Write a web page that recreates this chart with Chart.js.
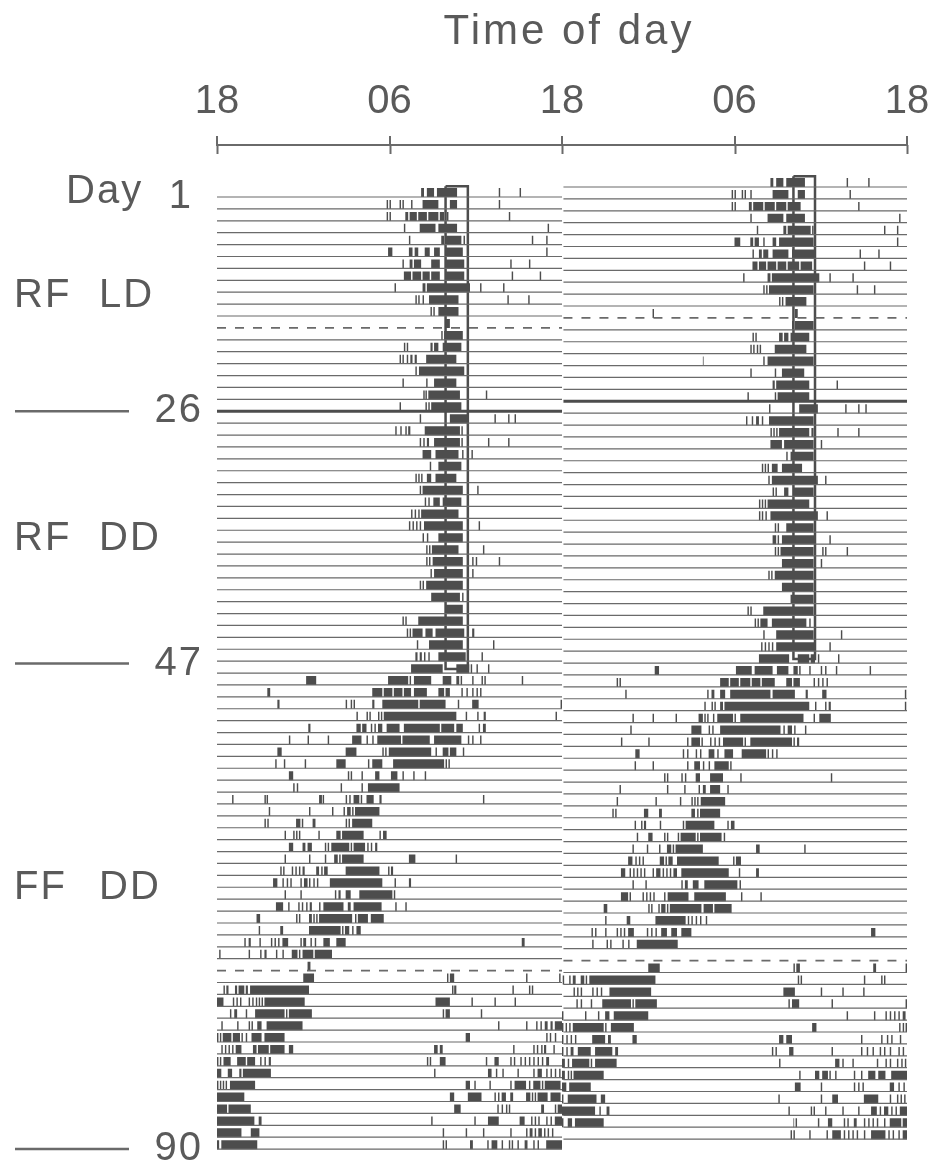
<!DOCTYPE html>
<html>
<head>
<meta charset="utf-8">
<script src="https://cdn.jsdelivr.net/npm/chart.js@4.4.1/dist/chart.umd.min.js"></script>
<style>
  html, body { margin: 0; padding: 0; background: #fff; }
</style>
</head>
<body>
<canvas id="acto" width="930" height="1166"></canvas>
<script>
// time axis: 48 h double plot starting at 18:00
const axisTitle = "Time of day";
const timeTicks = ["18", "06", "18", "06", "18"];

// day labels on the left and the rows they sit on
const dayMarks = ["1", "26", "47", "90"];
const dayMarkRows = [1, 19, 40.2, 81];
const phaseLabels = ["RF LD", "RF DD", "FF DD"];
const phaseRows = [9.3, 29.7, 59.1];

// special base lines
const dashedRows = [12, 66];
const thickRows = [19];

// restricted feeding window (hours after 18:00) and the rows it spans
const feedLeft = [15.9, 17.45];
const feedRight = [16.1, 17.6];
const feedRows = [0.1, 40.65];
const rowCount = 81;

// activity, one array per row: [start, end, start, end, ...] in hours after 18:00
const ldLeft = [
  [14.2,14.4, 14.6,15.1, 15.3,16.7, 19.6,19.7, 21.05,21.15],
  [11.8,11.9, 12.0,12.1, 12.7,12.8, 12.9,13.0, 13.5,13.6, 14.3,15.4, 16.2,16.7, 19.6,19.7],
  [11.8,11.9, 12.0,12.1, 13.1,13.3, 13.4,13.9, 14.0,14.6, 14.7,15.4, 15.5,15.8, 16.0,16.1, 20.3,20.4],
  [13.0,13.1, 14.1,15.2, 15.4,16.7, 23.0,23.1],
  [13.35,13.45, 15.6,15.8, 15.9,17.0, 17.15,17.25, 21.9,22.0, 22.9,23.0],
  [11.9,12.2, 13.35,13.6, 13.75,14.0, 14.45,14.8, 15.1,15.5, 15.9,17.1, 22.9,23.0],
  [12.9,13.0, 13.4,13.6, 13.7,14.2, 14.9,15.5, 15.9,17.2, 20.4,20.5, 21.7,21.8],
  [13.0,13.5, 13.6,14.2, 14.3,14.8, 14.9,15.5, 15.9,17.2, 20.5,20.6, 22.45,22.55],
  [12.35,12.45, 14.3,14.5, 14.6,17.6, 18.3,18.4, 19.9,20.0],
  [13.8,13.9, 14.0,14.1, 14.3,14.4, 14.75,16.8, 20.2,20.3, 21.65,21.75],
  [14.85,14.95, 15.05,15.15, 15.4,16.8],
  [15.9,16.2],
  [15.6,15.7, 15.8,17.1],
  [13.0,13.1, 13.2,13.3, 14.85,15.0, 15.1,15.4, 15.7,17.0],
  [12.7,12.8, 12.9,13.0, 13.2,13.3, 13.45,13.6, 13.75,13.9, 14.55,16.65],
  [13.8,13.9, 14.05,17.2],
  [12.9,13.0, 14.55,14.65, 15.1,16.65],
  [14.35,14.45, 14.5,14.6, 14.7,16.9, 18.7,18.8]
];
const rfLeft = [
  [12.7,12.8, 14.5,14.6, 14.7,14.8, 14.9,17.0],
  [14.1,14.2, 16.2,17.4, 19.3,19.4, 20.25,20.35, 20.7,20.8],
  [12.4,12.5, 12.75,12.85, 13.1,13.2, 13.3,13.45, 14.45,16.9, 17.0,17.1],
  [14.1,14.2, 14.35,14.45, 14.6,14.75, 15.1,16.9, 17.0,17.1, 18.85,18.95, 20.25,20.35],
  [14.3,14.9, 15.2,16.8, 17.05,17.15, 17.7,17.8],
  [14.8,14.9, 15.4,17.0],
  [13.8,13.9, 14.0,14.1, 14.2,14.3, 14.6,14.9, 15.2,16.65],
  [14.1,14.2, 14.3,17.1, 18.1,18.2],
  [14.45,14.55, 14.7,14.8, 15.05,15.5, 15.7,17.0],
  [13.5,13.6, 13.75,13.85, 14.0,14.1, 14.2,16.8],
  [13.35,13.45, 13.6,13.7, 13.85,13.95, 14.1,14.2, 14.4,17.1, 18.2,18.3],
  [14.3,14.4, 14.6,14.7, 15.4,17.1],
  [14.55,14.65, 14.75,14.85, 14.95,16.8, 18.5,18.6],
  [14.55,14.65, 14.75,14.85, 15.0,17.1, 17.75,17.85, 18.0,18.1, 19.6,19.7],
  [14.85,14.95, 15.1,17.1, 17.75,17.85],
  [14.1,14.2, 14.3,14.4, 14.55,17.1],
  [14.9,16.9, 17.05,17.15],
  [15.9,17.1],
  [12.9,13.0, 13.1,13.2, 14.0,17.1],
  [13.2,13.3, 13.4,13.5, 13.6,14.3, 14.5,15.0, 15.2,17.2, 17.75,17.9],
  [13.9,14.0, 14.75,17.1, 19.2,19.3],
  [13.8,13.95, 14.1,14.25, 14.4,14.5, 14.7,14.8, 15.4,17.3, 18.4,18.5]
];
const ffLeft = [
  [13.5,15.7, 16.65,17.55, 17.65,17.75, 18.05,18.15, 18.85,18.95],
  [6.2,6.9, 11.9,13.3, 13.4,13.5, 13.7,14.9, 15.7,16.3, 16.65,16.85, 16.95,17.05, 17.75,17.85, 18.4,18.5, 18.6,18.7, 21.2,21.3],
  [3.5,3.7, 10.8,11.5, 11.6,12.2, 12.3,12.9, 13.0,13.5, 13.7,14.6, 15.4,15.8, 15.9,16.2, 17.0,17.1, 17.35,17.45, 17.75,17.85, 18.05,18.15, 18.3,18.4],
  [4.2,4.35, 8.95,9.05, 9.3,9.4, 9.5,9.6, 10.8,10.95, 11.5,14.0, 14.1,15.9, 16.75,16.85, 17.75,18.2, 23.9,24.0],
  [9.7,9.8, 10.4,10.5, 10.6,10.7, 11.2,11.3, 11.4,11.5, 11.6,16.65, 17.3,17.4, 18.1,18.2, 18.55,18.7, 23.55,23.65],
  [6.35,6.5, 9.7,10.0, 10.1,10.4, 10.7,10.8, 10.95,11.05, 11.2,11.5, 11.8,12.7, 13.0,15.5, 15.6,16.5, 16.65,17.1, 18.2,18.3, 18.5,18.7],
  [5.0,5.1, 6.3,6.4, 7.7,7.8, 9.4,10.05, 10.4,10.5, 10.8,10.9, 11.15,12.8, 12.9,14.8, 15.1,17.0, 17.45,17.55, 17.75,17.85, 18.3,18.4],
  [4.2,4.5, 8.95,9.7, 11.5,11.6, 11.7,11.8, 11.95,14.9, 15.2,15.3, 15.7,16.1, 16.2,16.65, 17.1,17.2],
  [4.05,4.15, 4.65,4.75, 6.1,6.2, 8.3,8.95, 10.5,10.6, 10.8,11.5, 12.25,15.8, 15.9,16.0, 16.1,16.2],
  [5.0,5.3, 9.1,9.2, 9.3,9.4, 10.05,10.15, 11.0,11.3, 12.1,12.55, 12.9,13.0, 13.65,13.75, 14.45,14.55],
  [5.3,5.4, 5.55,5.65, 8.6,8.7, 10.05,10.15, 10.5,12.7],
  [1.05,1.15, 3.3,3.4, 3.45,3.55, 7.1,7.3, 7.35,7.45, 8.95,9.05, 9.2,9.3, 9.5,9.9, 10.0,10.1, 10.4,10.9, 11.3,11.45, 18.5,18.6],
  [3.6,3.7, 6.4,6.5, 8.0,8.1, 8.8,8.9, 9.05,9.3, 9.4,9.5, 9.6,11.3],
  [3.3,3.4, 3.5,3.6, 5.5,5.8, 5.9,6.0, 6.65,6.85, 8.95,9.05, 9.15,9.25, 9.4,10.8],
  [4.7,4.8, 5.3,5.4, 5.5,5.6, 5.7,5.8, 7.05,7.15, 8.3,8.6, 8.7,10.2, 11.3,11.4, 11.55,11.8],
  [5.0,5.3, 5.95,6.15, 6.3,6.6, 7.5,7.6, 7.7,7.8, 7.95,9.2, 9.3,9.4, 9.5,10.3, 10.45,10.55, 10.7,10.8, 11.0,11.15],
  [4.7,4.8, 6.4,6.5, 7.5,7.6, 8.15,8.4, 8.5,8.6, 8.7,10.2, 13.35,13.8, 16.6,16.7],
  [4.4,4.5, 4.6,4.7, 5.2,5.3, 5.45,5.55, 5.7,5.8, 5.95,6.1, 6.9,7.1, 7.25,7.35, 7.45,7.7, 8.95,11.3, 11.9,12.0, 12.1,12.25],
  [3.9,4.2, 4.55,4.65, 4.85,4.95, 5.1,5.2, 5.8,5.9, 6.05,6.3, 6.4,6.5, 6.7,6.8, 6.95,7.05, 7.85,11.5, 12.35,12.45, 13.35,13.5],
  [4.7,4.8, 5.8,5.9, 8.2,8.3, 8.45,8.6, 8.95,9.3, 9.9,12.2, 12.3,12.4],
  [4.1,4.6, 4.95,5.05, 5.65,5.75, 5.9,6.0, 6.2,6.3, 6.45,6.6, 7.1,7.2, 7.4,8.8, 9.1,9.3, 9.5,11.45, 12.4,12.5, 13.1,13.2],
  [2.75,3.0, 5.5,5.6, 5.7,5.8, 6.4,6.6, 6.7,6.8, 6.9,7.0, 7.1,9.4, 9.6,9.7, 9.8,10.5, 10.7,11.6],
  [2.9,3.0, 4.4,4.6, 6.4,8.6, 8.7,8.8, 8.9,9.2, 9.4,9.5, 9.7,10.0],
  [1.9,2.0, 2.2,2.35, 2.95,3.05, 3.75,3.85, 4.0,4.1, 4.25,4.35, 4.55,4.95, 5.8,5.9, 6.0,6.2, 6.5,6.6, 6.8,6.9, 7.4,7.85, 8.3,8.95, 21.2,21.4],
  [0.15,0.25, 2.2,2.3, 3.0,3.1, 3.3,3.45, 4.1,4.2, 4.55,4.65, 5.2,5.6, 5.7,5.8, 5.95,6.7, 6.8,8.0],
  [6.3,6.5],
  [6.0,6.75, 16.0,16.1, 16.2,16.5, 21.5,21.6, 23.8,23.9],
  [0.45,0.55, 0.65,0.8, 1.25,1.4, 1.5,1.9, 2.0,2.15, 2.3,6.4, 16.35,16.45, 16.5,16.65, 20.55,20.65, 21.7,21.8, 21.9,22.0],
  [0.0,0.45, 1.1,1.2, 1.35,1.45, 1.6,1.7, 2.2,2.3, 2.45,2.55, 2.7,2.8, 2.9,3.0, 3.1,3.2, 3.3,6.1, 15.2,16.2, 17.7,17.8, 19.3,19.4, 20.7,20.8],
  [0.9,1.0, 1.2,1.4, 2.0,2.1, 2.65,4.7, 4.8,4.9, 5.0,6.6, 15.7,15.8, 15.9,16.2, 18.35,18.45],
  [0.3,0.4, 1.4,1.5, 2.2,2.3, 2.4,2.5, 2.8,3.1, 3.45,5.95, 19.55,19.65, 21.5,21.6, 22.2,22.3, 22.5,22.6, 22.8,23.0, 23.2,23.35, 23.5,24.0],
  [0.0,0.1, 0.2,0.3, 0.4,1.0, 1.1,1.6, 1.7,1.8, 2.0,2.1, 2.4,3.1, 3.3,4.7, 17.3,17.6, 22.9,23.0, 23.15,23.25, 23.5,23.6],
  [0.3,0.4, 0.55,0.65, 0.8,0.9, 1.05,1.15, 1.3,1.7, 2.5,2.75, 2.85,3.6, 3.7,4.7, 5.0,5.3, 15.1,15.35, 15.5,15.7, 20.6,20.7, 22.0,22.1, 22.25,22.35, 22.55,22.65, 22.75,22.9, 23.4,23.5],
  [0.0,0.1, 0.2,0.3, 0.45,0.95, 1.4,2.0, 2.1,2.65, 3.0,3.1, 3.3,3.4, 3.6,3.75, 14.6,14.7, 14.8,14.9, 15.5,15.9, 18.7,18.8, 19.3,19.6, 20.4,20.5, 20.65,20.75, 21.1,21.2, 21.4,21.5, 21.7,21.8, 22.0,22.1, 22.3,22.4, 22.6,22.7, 22.9,23.1],
  [0.0,0.3, 0.75,1.05, 1.55,1.7, 1.8,3.75, 15.1,15.2, 18.85,19.1, 19.4,19.5, 19.85,19.95, 20.9,21.0, 22.0,22.1, 22.3,22.6, 22.9,23.0, 23.2,23.3, 23.5,23.6, 23.8,23.9],
  [0.0,0.1, 0.2,0.3, 0.4,0.5, 0.6,0.7, 0.9,2.65, 17.3,17.6, 17.9,18.0, 18.95,19.05, 20.4,20.5, 20.7,21.5, 21.7,21.8, 22.0,22.5, 22.6,22.7, 22.8,23.9],
  [0.0,1.9, 16.2,16.5, 17.45,18.4, 19.3,19.4, 19.55,19.65, 19.8,20.1, 20.4,20.6, 21.5,21.8, 21.9,22.0, 22.1,22.2, 22.3,23.0, 23.2,23.9],
  [0.0,0.7, 0.8,2.35, 16.5,16.95, 19.5,19.6, 19.8,19.9, 20.1,20.2, 20.3,20.4, 22.55,22.75, 23.5,23.6, 23.7,24.0],
  [0.0,2.6, 2.9,3.1, 14.9,15.0, 17.9,18.0, 18.85,19.6, 21.05,21.4, 21.85,21.95, 22.1,22.2, 22.35,22.45, 22.9,23.0, 23.2,23.3, 23.5,24.0],
  [0.0,1.7, 2.35,2.95, 15.7,15.8, 17.3,17.4, 18.5,18.6, 20.4,20.5, 21.5,21.6, 21.75,21.95, 22.1,22.2, 22.35,22.6, 22.75,22.85, 23.0,23.1, 23.3,23.4],
  [0.0,0.15, 0.3,2.8, 15.7,15.8, 15.9,16.0, 17.6,17.8, 18.8,18.9, 19.1,19.5, 19.8,19.9, 20.3,20.4, 20.5,20.6, 20.9,21.0, 21.4,21.6, 22.0,22.1, 22.3,22.4, 22.9,24.0]
];

const ldRight = [
  [14.5,14.7, 14.9,15.4, 15.6,16.9, 19.8,19.9, 21.3,21.4],
  [11.8,11.9, 12.0,12.1, 12.5,12.6, 12.7,12.8, 13.1,13.2, 14.65,15.75, 16.4,16.9, 20.0,20.1],
  [11.8,11.9, 12.0,12.1, 13.0,13.2, 13.3,14.0, 14.1,14.8, 14.9,15.6, 15.7,16.6, 20.6,20.7],
  [13.1,13.2, 14.3,15.4, 15.6,16.9, 23.45,23.55],
  [13.55,13.65, 15.4,15.6, 15.7,17.3, 17.4,17.5, 22.4,22.5, 23.3,23.4],
  [12.0,12.4, 13.1,13.3, 13.4,13.7, 14.0,14.1, 14.65,14.9, 15.1,17.5, 23.3,23.4],
  [13.25,13.35, 13.7,13.9, 14.0,14.35, 14.65,15.75, 16.0,17.6, 20.7,20.8, 22.0,22.1],
  [13.25,13.6, 13.7,14.2, 14.3,14.9, 15.0,15.6, 15.7,16.5, 16.6,17.4, 21.0,21.1, 22.8,22.9],
  [12.6,12.7, 14.3,14.5, 14.6,17.9, 18.6,18.7, 20.2,20.3],
  [14.0,14.1, 14.2,14.3, 14.4,17.5, 20.5,20.6, 21.7,21.8],
  [15.1,15.2, 15.3,15.4, 15.55,17.0],
  [6.3,6.4, 16.2,16.4],
  [16.0,16.1, 16.2,17.5],
  [13.25,13.35, 13.45,13.55, 15.1,15.35, 15.45,15.75, 15.9,17.2],
  [13.1,13.2, 13.3,13.4, 13.55,13.65, 13.75,13.85, 14.8,17.0],
  [9.8,9.85, 14.0,14.1, 14.3,17.5],
  [13.1,13.2, 14.8,14.9, 15.3,16.85],
  [14.65,14.8, 14.9,17.2, 19.1,19.2]
];
const rfRight = [
  [12.9,13.0, 14.8,14.9, 15.0,17.2],
  [14.4,14.5, 16.5,17.8, 19.7,19.8, 20.6,20.7, 21.1,21.2],
  [12.8,12.9, 13.2,13.3, 13.5,13.7, 13.9,14.0, 14.4,17.5],
  [14.5,14.6, 14.7,14.8, 14.9,15.0, 15.1,17.2, 17.35,17.5, 19.15,19.25, 20.6,20.7],
  [14.5,15.3, 15.45,17.5, 18.0,18.1],
  [15.6,15.7, 15.9,17.5],
  [13.9,14.0, 14.1,14.2, 14.3,14.4, 14.6,15.0, 15.3,16.7],
  [14.35,14.45, 14.6,17.8, 18.3,18.4],
  [14.65,14.75, 14.85,14.95, 15.45,15.75, 16.1,17.5],
  [13.7,13.8, 13.9,14.0, 14.1,14.2, 14.3,17.2],
  [13.7,13.8, 13.9,14.0, 14.15,14.25, 14.5,17.8, 18.4,18.5],
  [14.8,14.9, 15.0,15.1, 15.6,17.5],
  [14.65,14.9, 15.0,15.1, 15.3,17.6, 18.6,18.7],
  [14.8,14.9, 15.0,15.1, 15.2,17.5, 18.1,18.2, 18.3,18.4, 19.8,19.9],
  [15.3,17.5, 18.0,18.1],
  [14.35,14.45, 14.55,14.65, 14.8,17.5],
  [15.3,17.5],
  [15.9,17.5],
  [12.9,13.0, 13.1,13.2, 14.0,17.5],
  [13.4,13.5, 13.6,13.7, 13.8,14.3, 14.6,17.0, 17.2,17.3],
  [14.0,14.1, 14.9,17.5, 19.4,19.5],
  [13.85,13.95, 14.1,14.2, 14.35,14.45, 14.6,14.7, 14.9,17.6, 18.6,18.7]
];
const ffRight = [
  [13.7,15.8, 16.4,17.2, 17.3,17.6, 17.8,17.9, 19.2,19.3],
  [6.45,6.75, 12.1,13.2, 13.4,14.65, 14.95,15.75, 16.1,16.4, 16.5,16.6, 17.2,17.3, 18.0,18.1, 18.3,18.4, 19.05,19.15, 21.4,21.5],
  [3.8,3.9, 4.0,4.1, 11.0,11.6, 11.7,12.3, 12.4,13.1, 13.2,13.8, 13.9,14.8, 15.6,16.0, 16.1,16.55, 17.5,17.6, 17.8,17.9, 18.1,18.2, 18.4,18.5],
  [4.4,4.5, 10.1,10.2, 10.4,10.6, 11.0,11.35, 11.7,14.5, 14.65,16.2, 16.95,17.1, 18.1,18.4, 23.85,23.95],
  [9.9,10.0, 10.4,10.5, 10.6,10.7, 11.0,11.2, 11.3,17.2, 17.6,17.7, 18.3,18.4, 18.55,18.7, 23.85,23.95],
  [4.9,5.0, 6.3,6.4, 7.9,8.0, 9.5,9.8, 9.9,10.0, 10.1,10.2, 10.5,10.6, 10.8,11.9, 12.0,12.1, 12.4,16.8, 17.5,17.6, 17.9,18.7],
  [4.75,4.85, 9.0,9.7, 10.2,10.3, 10.45,10.55, 11.0,15.2, 15.4,15.5, 15.7,16.0, 16.15,16.25, 16.9,17.0],
  [4.1,4.2, 6.0,6.1, 8.7,8.8, 9.0,9.6, 9.7,9.8, 10.3,10.4, 10.6,10.7, 10.9,11.0, 11.2,12.6, 12.7,12.8, 13.1,16.0, 16.1,16.2, 16.35,16.5],
  [5.1,5.4, 8.4,8.5, 8.7,8.8, 9.3,9.4, 9.6,9.7, 10.2,10.6, 10.8,10.9, 11.3,11.9, 12.5,14.2, 14.3,14.4, 14.6,14.7, 14.9,15.0],
  [5.05,5.15, 6.3,6.4, 8.7,8.8, 9.2,9.6, 9.8,9.9, 10.2,10.3, 10.6,11.6, 11.7,11.8],
  [7.1,7.2, 7.3,7.4, 8.3,8.4, 8.55,8.65, 9.3,9.6, 10.3,11.2, 12.4,12.5, 18.7,18.8],
  [4.0,4.1, 7.3,7.4, 8.5,8.6, 9.5,9.6, 9.8,10.0, 10.3,11.0, 11.5,11.6],
  [3.8,3.9, 6.5,6.6, 8.2,8.3, 9.0,9.1, 9.2,9.3, 9.4,9.5, 9.65,11.35],
  [3.5,3.6, 3.7,3.8, 5.7,6.0, 6.75,6.95, 9.0,9.25, 9.4,9.5, 9.6,11.0],
  [5.05,5.15, 5.5,5.6, 5.7,5.85, 6.8,6.9, 8.4,8.5, 8.6,10.6, 11.5,11.6, 11.75,12.0],
  [5.2,5.3, 6.0,6.3, 7.1,7.2, 7.3,7.4, 8.05,8.15, 8.25,9.3, 9.4,9.5, 9.6,11.1, 11.25,11.35],
  [4.9,5.0, 5.9,6.0, 6.75,6.85, 7.3,7.6, 7.7,7.8, 7.9,9.8, 13.5,13.75, 16.85,16.95],
  [4.6,4.9, 5.1,5.2, 5.35,5.45, 5.6,5.7, 6.8,7.1, 7.2,7.3, 7.4,7.7, 8.0,10.9, 11.9,12.0, 12.1,12.45],
  [4.1,4.4, 4.7,4.8, 4.95,5.05, 5.2,5.3, 5.45,5.55, 5.7,5.8, 6.3,6.4, 6.55,6.85, 7.0,7.1, 7.25,7.35, 7.5,7.6, 7.75,8.0, 8.3,11.6, 12.3,12.4, 13.5,13.7],
  [4.9,5.0, 5.8,5.9, 8.3,8.4, 8.55,8.75, 9.1,9.5, 9.9,12.2, 12.35,12.45],
  [4.1,4.6, 4.7,4.8, 5.6,5.7, 5.85,5.95, 6.1,6.2, 6.35,6.45, 7.1,7.2, 7.35,8.8, 9.2,11.4, 12.45,12.55, 13.8,13.9],
  [2.9,3.15, 6.0,6.1, 6.2,6.3, 6.7,6.8, 6.9,7.2, 7.3,7.4, 7.5,9.7, 9.85,10.5, 10.6,11.8],
  [3.0,3.1, 4.5,4.75, 6.5,8.6, 8.75,8.85, 9.0,9.1, 9.3,9.4, 9.6,9.7, 10.0,10.1],
  [2.05,2.15, 2.3,2.4, 3.0,3.1, 3.8,3.9, 4.05,4.15, 4.3,4.4, 4.6,5.0, 5.9,6.0, 6.2,6.3, 6.5,6.6, 6.9,7.3, 7.6,8.0, 8.3,9.0, 21.5,21.8],
  [2.1,2.2, 3.1,3.2, 3.35,3.45, 4.2,4.3, 4.6,4.7, 5.2,8.05],
  [],
  [6.0,6.8, 16.1,16.2, 16.3,16.55, 21.65,21.85, 23.9,24.0],
  [0.05,0.15, 0.5,0.6, 0.75,0.95, 1.3,1.55, 1.65,1.75, 1.9,6.5, 16.4,16.5, 16.6,16.7, 21.0,21.1, 22.2,22.3, 22.4,22.5],
  [0.8,0.9, 1.05,1.15, 1.3,1.4, 2.1,2.2, 2.4,2.5, 2.7,2.8, 3.3,6.2, 15.4,16.2, 18.0,18.1, 19.5,19.6, 20.95,21.05],
  [1.0,1.1, 1.3,1.4, 2.0,2.1, 2.8,4.8, 4.9,5.0, 5.1,6.6, 15.75,15.85, 16.0,16.5, 18.75,18.85, 23.9,24.0],
  [0.0,0.1, 1.6,1.7, 2.5,2.6, 3.0,3.3, 3.6,6.0, 19.8,19.9, 21.7,21.8, 22.5,22.6, 22.8,22.9, 23.1,23.2, 23.4,23.5, 23.7,23.9],
  [0.0,0.1, 0.25,0.35, 0.5,0.6, 0.75,2.9, 3.0,3.1, 3.4,5.0, 17.4,17.7, 23.45,23.55, 23.7,23.8, 23.9,24.0],
  [0.0,0.1, 0.3,0.4, 0.6,0.7, 0.9,1.0, 2.1,3.0, 3.2,3.4, 4.9,5.2, 15.1,15.4, 15.6,16.0, 20.8,20.9, 22.2,22.3, 22.6,22.7, 22.9,23.0, 23.5,23.6],
  [0.0,0.1, 0.3,0.4, 0.6,0.8, 1.1,2.0, 2.3,3.5, 3.7,3.9, 14.6,14.7, 14.85,14.95, 15.8,16.1, 18.75,18.85, 20.8,20.9, 21.2,21.3, 21.6,21.7, 22.1,22.2, 22.4,22.5, 22.8,22.9, 23.4,23.5, 23.7,23.8],
  [0.0,0.2, 0.4,0.5, 0.7,1.9, 2.0,2.1, 2.3,3.8, 15.1,15.2, 19.0,19.3, 19.5,19.6, 20.2,20.3, 21.9,22.0, 22.5,22.6, 22.8,22.9, 23.3,23.4, 23.6,23.7, 23.85,23.95],
  [0.0,0.2, 0.4,0.5, 0.6,0.7, 0.8,2.9, 16.5,16.6, 17.6,17.9, 18.1,18.5, 18.6,18.7, 19.0,19.1, 20.3,20.4, 20.8,20.9, 21.3,21.8, 22.0,22.5, 22.9,24.0],
  [0.0,0.3, 0.5,2.0, 16.2,16.6, 18.0,18.1, 20.3,20.4, 20.6,20.7, 20.9,21.0, 22.8,23.1, 23.4,23.5, 23.75,23.85],
  [0.0,0.1, 0.4,2.4, 2.7,3.0, 15.05,15.15, 18.0,18.1, 18.8,19.2, 21.0,22.0, 22.8,22.9, 23.3,23.4, 23.55,23.65, 23.8,23.9],
  [0.0,2.3, 2.6,2.7, 3.1,3.3, 15.75,15.85, 17.3,17.4, 17.5,17.6, 18.3,18.4, 19.5,19.6, 20.6,20.7, 21.5,21.9, 22.1,22.2, 22.4,22.7, 22.9,23.0, 23.2,23.3, 23.5,24.0],
  [0.0,0.1, 0.4,0.7, 0.9,2.9, 16.1,16.15, 16.25,16.35, 17.8,17.9, 18.5,18.8, 19.6,19.7, 19.85,19.95, 20.3,20.5, 21.0,21.1, 21.3,21.4, 21.6,21.7, 21.9,22.0, 22.4,22.5, 22.8,23.6, 23.7,24.0],
  [15.9,16.0, 16.1,16.2, 17.2,17.3, 18.4,18.5, 18.8,19.4, 19.6,19.7, 19.9,20.0, 20.2,20.3, 20.5,20.6, 21.0,21.1, 21.5,22.5, 22.7,22.8, 23.0,23.1, 23.4,23.5, 23.7,24.0]
];

const leftRows = ldLeft.concat(rfLeft, ffLeft);
const rightRows = ldRight.concat(rfRight, ffRight);

const ink = "#4d4d4d";
const lineInk = "#6a6a6a";
const textInk = "#5a5a5a";
const fontFamily = "'Liberation Sans', Arial, sans-serif";
const markLift = 0.37;

function markPoints(rows, hourShift) {
  const pts = [];
  rows.forEach((row, i) => {
    const y = i + 1 - markLift;
    for (let j = 0; j < row.length; j += 2) {
      pts.push({x: row[j] + hourShift, y: y}, {x: row[j + 1] + hourShift, y: y}, {x: row[j + 1] + hourShift, y: null});
    }
  });
  return pts;
}

function rowLines(rows, x0, x1) {
  const pts = [];
  rows.forEach(r => {
    pts.push({x: x0, y: r}, {x: x1, y: r}, {x: x1, y: null});
  });
  return pts;
}

function plainRows() {
  const out = [];
  for (let r = 1; r <= rowCount; r++) {
    if (!dashedRows.includes(r) && !thickRows.includes(r)) out.push(r);
  }
  return out;
}

function boxPoints(win, shift) {
  return [
    {x: win[0] + shift, y: feedRows[0]}, {x: win[1] + shift, y: feedRows[0]},
    {x: win[1] + shift, y: feedRows[1]}, {x: win[0] + shift, y: feedRows[1]},
    {x: win[0] + shift, y: feedRows[0]}
  ];
}

function lineSet(data, axis, width, color, dash) {
  return {
    data: data, yAxisID: axis, showLine: true, spanGaps: false,
    borderColor: color, borderWidth: width, borderDash: dash || [],
    borderCapStyle: "butt", pointRadius: 0, fill: false
  };
}

// title, the lower half of the axis ticks and the left-side labels
const sideLabels = {
  id: "sideLabels",
  afterDraw(chart) {
    const ctx = chart.ctx;
    const y = chart.scales.y;
    const x = chart.scales.x;
    const area = chart.chartArea;
    ctx.save();
    ctx.fillStyle = textInk;
    ctx.strokeStyle = lineInk;

    ctx.font = "42px " + fontFamily;
    ctx.letterSpacing = "3px";
    ctx.textAlign = "center";
    ctx.textBaseline = "middle";
    ctx.fillText(axisTitle, 569, 32);

    ctx.lineWidth = 2;
    timeTicks.forEach((t, i) => {
      const px = Math.round(x.getPixelForValue(i * 12)) + 0.5;
      ctx.beginPath();
      ctx.moveTo(px, area.top);
      ctx.lineTo(px, area.top + 9);
      ctx.stroke();
    });

    ctx.font = "40px " + fontFamily;
    ctx.letterSpacing = "2px";
    dayMarks.forEach((m, i) => {
      const py = y.getPixelForValue(dayMarkRows[i]);
      ctx.textAlign = "right";
      ctx.fillText(m, i === 0 ? 193 : 203, py);
      if (i === 0) {
        ctx.textAlign = "left";
        ctx.fillText("Day", 66, py - 5);
      } else {
        ctx.lineWidth = 2.5;
        ctx.beginPath();
        ctx.moveTo(15, py);
        ctx.lineTo(129, py);
        ctx.stroke();
      }
    });
    ctx.textAlign = "left";
    phaseLabels.forEach((p, i) => {
      const words = p.split(" ");
      const py = y.getPixelForValue(phaseRows[i]);
      ctx.fillText(words[0], 14, py);
      ctx.fillText(words[1], 99, py);
    });
    ctx.restore();
  }
};

new Chart(document.getElementById("acto"), {
  type: "scatter",
  data: {
    datasets: [
      lineSet(rowLines(plainRows(), 0, 24), "y", 1.2, lineInk),
      lineSet(rowLines(plainRows(), 24.1, 48), "yR", 1.2, lineInk),
      lineSet(rowLines(dashedRows, 0, 24), "y", 1.6, lineInk, [9, 9]),
      lineSet(rowLines(dashedRows, 24.1, 48), "yR", 1.6, lineInk, [9, 9]),
      lineSet(rowLines(thickRows, 0, 24), "y", 3, ink),
      lineSet(rowLines(thickRows, 24.1, 48), "yR", 3, ink),
      lineSet(markPoints(leftRows, 0), "y", 9, ink),
      lineSet(markPoints(rightRows, 24), "yR", 9, ink),
      lineSet(boxPoints(feedLeft, 0), "y", 2.5, ink),
      lineSet(boxPoints(feedRight, 24), "yR", 2.5, ink)
    ]
  },
  options: {
    responsive: false,
    animation: false,
    devicePixelRatio: 1,
    layout: { padding: { left: 217, right: 23, top: 0, bottom: 5 } },
    plugins: { legend: { display: false }, tooltip: { enabled: false } },
    scales: {
      x: {
        type: "linear", position: "top", min: 0, max: 48,
        afterFit: (scale) => { scale.height = 145; scale.paddingLeft = 0; scale.paddingRight = 0; },
        ticks: {
          stepSize: 12, color: textInk, padding: 10, maxRotation: 0,
          font: { family: fontFamily, size: 40 },
          callback: (v) => timeTicks[v / 12]
        },
        grid: { drawOnChartArea: false, drawTicks: true, tickLength: 9, color: lineInk, lineWidth: 2 },
        border: { display: true, color: lineInk, width: 2 }
      },
      y: { type: "linear", display: false, reverse: true, min: -3.37, max: 82.0 },
      yR: { type: "linear", display: false, reverse: true, min: -2.53, max: 82.84 }
    }
  },
  plugins: [sideLabels]
});
</script>
</body>
</html>
